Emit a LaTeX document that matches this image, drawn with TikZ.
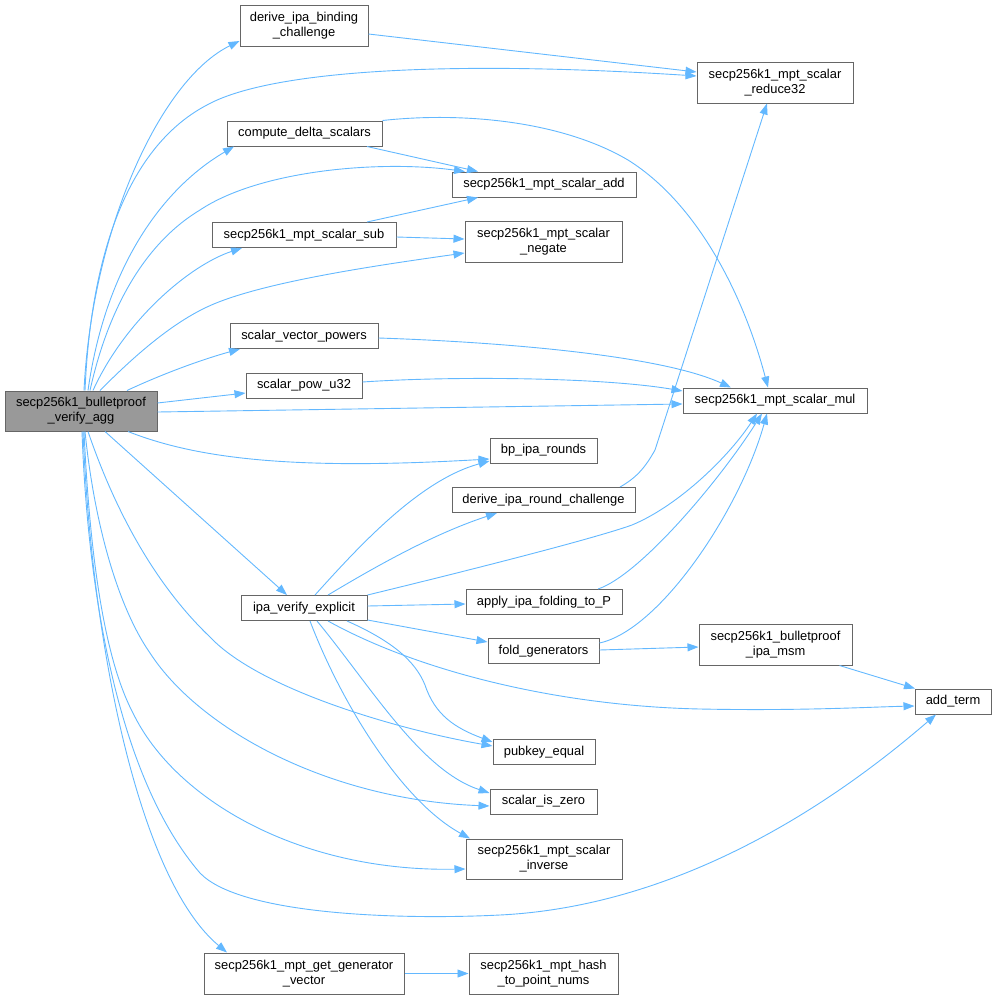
\documentclass[tikz,border=0pt]{standalone}
\usepackage{fontspec}
\setmainfont{Liberation Sans}
\usetikzlibrary{arrows.meta}
\definecolor{edgeblue}{HTML}{63B8FF}
\definecolor{boxline}{HTML}{666666}
\definecolor{mainfill}{HTML}{999999}
\begin{document}
\begin{tikzpicture}[x=1pt,y=-1pt,
  fn/.style={draw=boxline, line width=1pt, fill=white, inner sep=0pt, align=center,
    font=\fontsize{12.9}{15}\selectfont, text=black},
  call/.style={draw=edgeblue, line width=0.9pt, -{Triangle[length=11pt,width=8pt]}},
]
\useasboundingbox (0,0) rectangle (995,999);

% nodes
\node[fn, fill=mainfill, minimum width=152pt, minimum height=40pt] (main) at (81,411) {secp256k1\_bulletproof\\\_verify\_agg};
\node[fn, minimum width=128pt, minimum height=41pt] (dibc) at (304,25.5) {derive\_ipa\_binding\\\_challenge};
\node[fn, minimum width=156pt, minimum height=41pt] (red) at (775,82.5) {secp256k1\_mpt\_scalar\\\_reduce32};
\node[fn, minimum width=155pt, minimum height=25pt] (cds) at (304.5,133.5) {compute\_delta\_scalars};
\node[fn, minimum width=184pt, minimum height=25pt] (add) at (544,184.5) {secp256k1\_mpt\_scalar\_add};
\node[fn, minimum width=184pt, minimum height=25pt] (sub) at (304,235) {secp256k1\_mpt\_scalar\_sub};
\node[fn, minimum width=157pt, minimum height=41pt] (neg) at (543.5,241.5) {secp256k1\_mpt\_scalar\\\_negate};
\node[fn, minimum width=148pt, minimum height=25pt] (svp) at (304,336) {scalar\_vector\_powers};
\node[fn, minimum width=116pt, minimum height=25pt] (pow) at (304,385.5) {scalar\_pow\_u32};
\node[fn, minimum width=184pt, minimum height=25pt] (mul) at (775,400.5) {secp256k1\_mpt\_scalar\_mul};
\node[fn, minimum width=107pt, minimum height=25pt] (bpr) at (543.5,450.5) {bp\_ipa\_rounds};
\node[fn, minimum width=183pt, minimum height=25pt] (dirc) at (543.5,500) {derive\_ipa\_round\_challenge};
\node[fn, minimum width=126pt, minimum height=25pt] (ipa) at (304,608) {ipa\_verify\_explicit};
\node[fn, minimum width=156pt, minimum height=25pt] (apply) at (544,602) {apply\_ipa\_folding\_to\_P};
\node[fn, minimum width=111pt, minimum height=25pt] (fold) at (543.5,651) {fold\_generators};
\node[fn, minimum width=153pt, minimum height=41pt] (msm) at (775.5,644.5) {secp256k1\_bulletproof\\\_ipa\_msm};
\node[fn, minimum width=76pt, minimum height=25pt] (addt) at (953,701.5) {add\_term};
\node[fn, minimum width=102pt, minimum height=25pt] (peq) at (544,752) {pubkey\_equal};
\node[fn, minimum width=107pt, minimum height=25pt] (siz) at (543.5,801.5) {scalar\_is\_zero};
\node[fn, minimum width=156pt, minimum height=40pt] (inv) at (544,859) {secp256k1\_mpt\_scalar\\\_inverse};
\node[fn, minimum width=200pt, minimum height=41pt] (ggv) at (304,973.5) {secp256k1\_mpt\_get\_generator\\\_vector};
\node[fn, minimum width=149pt, minimum height=41pt] (htp) at (543.5,973.5) {secp256k1\_mpt\_hash\\\_to\_point\_nums};

% edges from main (upwards)
\draw[call] ([xshift=3]main.north) .. controls (92,230) and (160,80) .. ([yshift=-15.5]dibc.west);
\draw[call] ([xshift=4]main.north) .. controls (92,230) and (140,140) .. (207,105)
  .. controls (270,70) and (450,60) .. ([yshift=6.5]red.west);
\draw[call] ([xshift=7]main.north) .. controls (105,270) and (160,190) .. ([xshift=-70.5]cds.south);
\draw[call] ([xshift=9]main.north) .. controls (110,300) and (150,240) .. (200,210)
  .. controls (260,170) and (380,160) .. ([xshift=-79]add.north);
\draw[call] ([xshift=12]main.north) .. controls (125,320) and (190,265) .. ([xshift=-62]sub.south);
\draw[call] ([xshift=19]main.north) .. controls (140,350) and (175,322) .. (207,307)
  .. controls (260,282) and (380,265) .. ([yshift=-11.5]neg.west);
\draw[call] ([xshift=46]main.north) .. controls (160,375) and (200,360) .. ([xshift=-64]svp.south);
\draw[call] ([yshift=8]main.east) -- ([yshift=-7.5]pow.west);
\draw[call] ([yshift=-1]main.east) -- ([yshift=-3.5]mul.west);

% edges from main (downwards)
\draw[call] ([xshift=47]main.south) .. controls (200,460) and (300,470) .. ([yshift=-8.5]bpr.west);
\draw[call] ([xshift=24]main.south) -- ([xshift=-17]ipa.north);
\draw[call] ([xshift=7]main.south) .. controls (108,490) and (145,575) .. (210,637)
  .. controls (260,690) and (400,730) .. ([yshift=6]peq.west);
\draw[call] ([xshift=4]main.south) .. controls (95,530) and (120,610) .. (150,653)
  .. controls (200,730) and (330,800) .. ([yshift=-4.5]siz.west);
\draw[call] ([xshift=3]main.south) .. controls (90,560) and (105,660) .. (133,713)
  .. controls (175,800) and (300,872) .. ([yshift=-10]inv.west);
\draw[call] ([xshift=1]main.south) .. controls (88,600) and (120,780) .. (200,873)
  .. controls (240,915) and (400,920) .. (500,915)
  .. controls (700,905) and (860,780) .. ([xshift=-17]addt.south);
\draw[call] ([xshift=2]main.south) .. controls (92,650) and (140,880) .. ([xshift=-77]ggv.north);

% other edges
\draw[call] ([yshift=-8.5]dibc.east) -- ([yshift=10.5]red.west);
\draw[call] (cds.north east) .. controls (460,112) and (560,120) .. (628,160)
  .. controls (700,205) and (745,300) .. ([xshift=-7]mul.north);
\draw[call] ([xshift=62.5]cds.south) -- ([xshift=-66]add.north);
\draw[call] ([xshift=63]sub.north) -- ([xshift=-66]add.south);
\draw[call] ([yshift=-2]sub.east) -- ([yshift=2.5]neg.west);
\draw[call] ([yshift=-2]svp.east) .. controls (500,342) and (660,355) .. ([xshift=-44]mul.north);
\draw[call] ([yshift=3.5]pow.east) .. controls (450,376) and (600,377) .. ([yshift=9.5]mul.west);
\draw[call] ([xshift=76.5]dirc.north) .. controls (636,478) and (645,468) .. (655,450)
  -- ([xshift=-8]red.south);
\draw[call] ([xshift=11]ipa.north) .. controls (360,545) and (420,480) .. ([yshift=-10.5]bpr.west);
\draw[call] ([xshift=24]ipa.north) .. controls (370,570) and (430,535) .. ([xshift=-46.5]dirc.south);
\draw[call] (ipa.north east) .. controls (450,575) and (590,540) .. (632,525)
  .. controls (680,505) and (730,455) .. ([xshift=-18]mul.south);
\draw[call] ([xshift=54]apply.north) .. controls (640,575) and (720,480) .. ([xshift=-13]mul.south);
\draw[call] ([yshift=8]fold.east) .. controls (660,630) and (740,510) .. ([xshift=-8]mul.south);
\draw[call] ([yshift=2]ipa.east) -- ([yshift=-2]apply.west);
\draw[call] ([yshift=-12]ipa.east) -- ([yshift=9]fold.west);
\draw[call] ([xshift=24]ipa.south) .. controls (420,672) and (560,706) .. (700,709)
  .. controls (800,711) and (870,707) .. ([yshift=-4.5]addt.west);
\draw[call] ([xshift=43]ipa.south) .. controls (390,640) and (415,660) .. (425,685)
  .. controls (435,715) and (455,728) .. ([yshift=10]peq.west);
\draw[call] ([xshift=13]ipa.south) .. controls (370,685) and (420,770) .. ([yshift=8.5]siz.west);
\draw[call] ([xshift=6]ipa.south) .. controls (340,700) and (400,800) .. ([xshift=-74]inv.north);
\draw[call] ([yshift=1]fold.east) -- ([yshift=-2.5]msm.west);
\draw[call] ([xshift=64]msm.south) -- ([xshift=-38]addt.north);
\draw[call] (ggv.east) -- (htp.west);
\end{tikzpicture}
\end{document}
